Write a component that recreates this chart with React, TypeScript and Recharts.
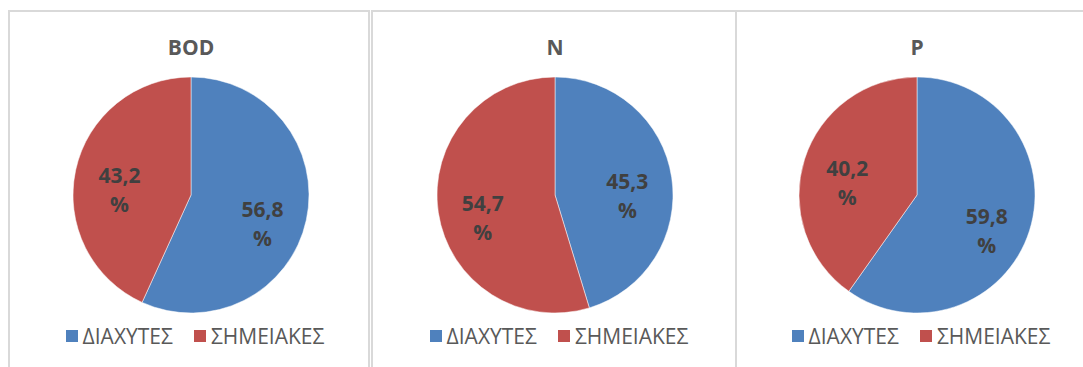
import React from "react";
import { PieChart, Pie, Cell } from "recharts";

const SERIES = ["ΔΙΑΧΥΤΕΣ", "ΣΗΜΕΙΑΚΕΣ"];
const COLORS = ["#4F81BD", "#C0504D"];
const PANELS = ["BOD", "N", "P"];
const DIFFUSE = [56.8, 45.3, 59.8];
const POINT = [43.2, 54.7, 40.2];

// panel boxes in page coordinates
const BOX_LEFT = [8, 371, 735];
const BOX_WIDTH = [362, 366, 366];
const PIE_CX = [191, 555, 917];
const BOX_TOP = 10;
const BORDER = 2;
const PIE_CY = 195;
const RADIUS = 118;
const FONT = "'Open Sans', 'Noto Sans', sans-serif";

const RAD = Math.PI / 180;

// data labels sit inside the slice, a bit below the mid-angle ray (like Excel best fit)
function renderLabel(props: any) {
  const { cx, cy, midAngle, outerRadius, value } = props;
  const x = cx + outerRadius * 0.62 * Math.cos(-midAngle * RAD);
  const y = cy + outerRadius * 0.66 * Math.sin(-midAngle * RAD) + 12;
  const txt = Number(value).toFixed(1).replace(".", ",");
  return (
    <text
      textAnchor="middle"
      fill="#404040"
      fontFamily={FONT}
      fontWeight={700}
      fontSize={21}
    >
      <tspan x={x} y={y - 7}>
        {txt}
      </tspan>
      <tspan x={x} y={y + 22}>
        %
      </tspan>
    </text>
  );
}

function Panel({ idx }: { idx: number }) {
  const data = [
    { name: SERIES[0], value: DIFFUSE[idx] },
    { name: SERIES[1], value: POINT[idx] },
  ];
  const innerLeft = BOX_LEFT[idx] + BORDER;
  const innerTop = BOX_TOP + BORDER;
  const cx = PIE_CX[idx] - innerLeft;
  const cy = PIE_CY - innerTop;
  const w = BOX_WIDTH[idx] - BORDER * 2;

  return (
    <div
      style={{
        position: "absolute",
        left: BOX_LEFT[idx],
        top: BOX_TOP,
        width: w,
        height: 380,
        border: `${BORDER}px solid #D9D9D9`,
        background: "#fff",
      }}
    >
      {/* Title */}
      <div
        style={{
          position: "absolute",
          left: cx - 100,
          width: 200,
          top: 21,
          textAlign: "center",
          fontFamily: FONT,
          fontWeight: 700,
          fontSize: 21,
          color: "#595959",
          lineHeight: "28px",
        }}
      >
        {PANELS[idx]}
      </div>

      <div style={{ position: "absolute", left: 0, top: 0 }}>
        <PieChart
          width={w}
          height={355}
          margin={{ top: 0, right: 0, bottom: 0, left: 0 }}
        >
          <Pie
            data={data}
            dataKey="value"
            nameKey="name"
            cx={cx}
            cy={cy}
            outerRadius={RADIUS}
            startAngle={90}
            endAngle={-270}
            stroke="#ffffff"
            strokeWidth={0.5}
            labelLine={false}
            label={renderLabel}
            isAnimationActive={false}
          >
            {data.map((d, i) => (
              <Cell key={d.name} fill={COLORS[i]} />
            ))}
          </Pie>
        </PieChart>
      </div>

      {/* Legend */}
      <div
        style={{
          position: "absolute",
          left: cx + 4 - 180,
          width: 360,
          top: 310,
          display: "flex",
          justifyContent: "center",
          alignItems: "center",
          fontFamily: FONT,
          fontSize: 21,
          color: "#595959",
          lineHeight: "28px",
        }}
      >
        {SERIES.map((s, i) => (
          <div
            key={s}
            style={{
              display: "flex",
              alignItems: "center",
              marginLeft: i === 0 ? 0 : 21,
            }}
          >
            <span
              style={{
                display: "inline-block",
                width: 12,
                height: 12,
                background: COLORS[i],
                marginRight: 5,
              }}
            />
            <span>{s}</span>
          </div>
        ))}
      </div>
    </div>
  );
}

export default function App() {
  return (
    <div
      style={{
        position: "absolute",
        left: 0,
        top: 0,
        width: 1083,
        height: 367,
        overflow: "hidden",
        background: "#fff",
      }}
    >
      {PANELS.map((p, i) => (
        <Panel key={p} idx={i} />
      ))}
    </div>
  );
}
